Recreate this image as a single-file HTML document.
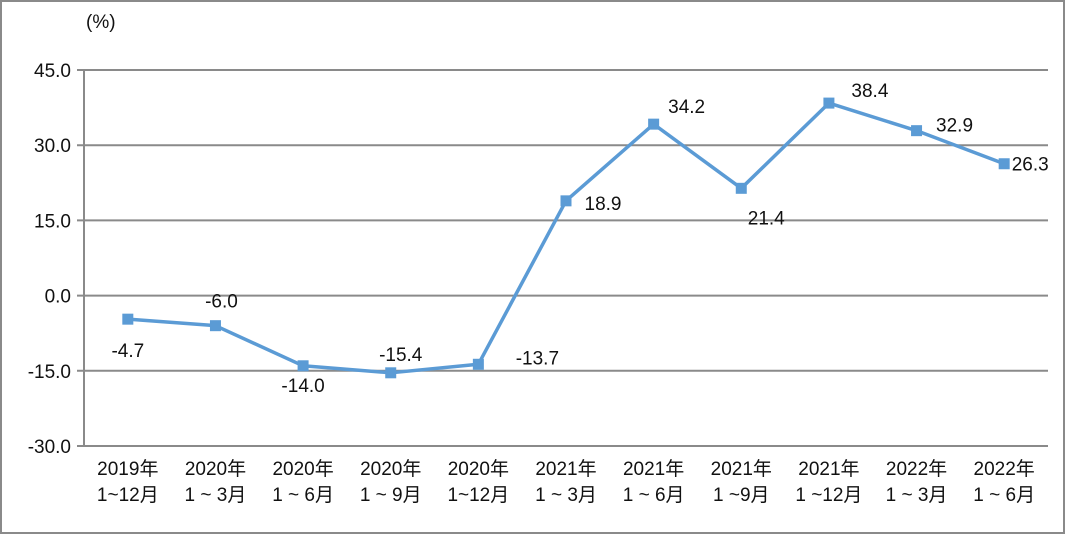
<!DOCTYPE html>
<html><head><meta charset="utf-8"><style>
body{margin:0;background:#fff}
svg{display:block;font-family:"Liberation Sans","Noto Sans CJK SC",sans-serif}
</style></head><body>
<svg id="chart" width="1065" height="534" viewBox="0 0 1065 534">
<rect x="1" y="1" width="1063" height="532" fill="#fff" stroke="#8a8a8a" stroke-width="2"/>
<text x="86" y="28" font-size="19" fill="#111">(%)</text>
<g id="grid"></g><g id="xl"></g><g id="series"></g>
</svg>
<script>
const categoriesTop=["2019年","2020年","2020年","2020年","2020年","2021年","2021年","2021年","2021年","2022年","2022年"];
const categoriesBottom=["1~12月","1 ~ 3月","1 ~ 6月","1 ~ 9月","1~12月","1 ~ 3月","1 ~ 6月","1 ~9月","1 ~12月","1 ~ 3月","1 ~ 6月"];
const values=[-4.7,-6.0,-14.0,-15.4,-13.7,18.9,34.2,21.4,38.4,32.9,26.3];
const yTicks=[45,30,15,0,-15,-30];
const labelOff=[[0,31],[6,-25],[0,19],[10,-19],[59,-7],[37,2],[33,-18],[25,29],[41,-13],[38,-6],[26,0]];
const NS="http://www.w3.org/2000/svg";
const L=84,R=1048,T=70,B=446,yMax=45,yMin=-30;
const y=v=>T+(yMax-v)/(yMax-yMin)*(B-T);
const x=i=>L+(R-L)/values.length*(i+0.5);
function mk(t,a,p){const e=document.createElementNS(NS,t);for(const k in a)e.setAttribute(k,a[k]);p.appendChild(e);return e;}
const grid=document.getElementById('grid');
yTicks.forEach(v=>{
 const g=mk('line',{x1:77,x2:R,y1:y(v),y2:y(v),stroke:'#8a8a8a','stroke-width':2},grid);
 
 
 const t=mk('text',{x:71,y:y(v)+7,'text-anchor':'end','font-size':19,fill:'#111'},grid);
 t.textContent=v.toFixed(1);
 
 
});
const ax=mk('line',{x1:L,x2:L,y1:T,y2:B,stroke:'#8a8a8a','stroke-width':2},grid);


const xl=document.getElementById('xl');
categoriesTop.forEach((c,i)=>{
 const t=mk('text',{x:x(i),y:475,'text-anchor':'middle','font-size':19,fill:'#111'},xl);
 t.textContent=c;
 
 
 const t2=mk('text',{x:x(i),y:501,'text-anchor':'middle','font-size':19,fill:'#111'},xl);
 t2.textContent=categoriesBottom[i];
 
 
});
const s=document.getElementById('series');
const line=mk('polyline',{points:values.map((v,i)=>x(i)+','+y(v)).join(' '),fill:'none',stroke:'#5b9bd5','stroke-width':3.5,'stroke-linejoin':'round'},s);


values.forEach((v,i)=>{
 const m=mk('rect',{x:x(i)-5.5,y:y(v)-5.5,width:11,height:11,fill:'#5b9bd5'},s);
 
 
 const t=mk('text',{x:x(i)+labelOff[i][0],y:y(v)+labelOff[i][1]+7,'text-anchor':'middle','font-size':19,fill:'#111'},s);
 t.textContent=v.toFixed(1);
 
 
});
</script>
</body></html>
